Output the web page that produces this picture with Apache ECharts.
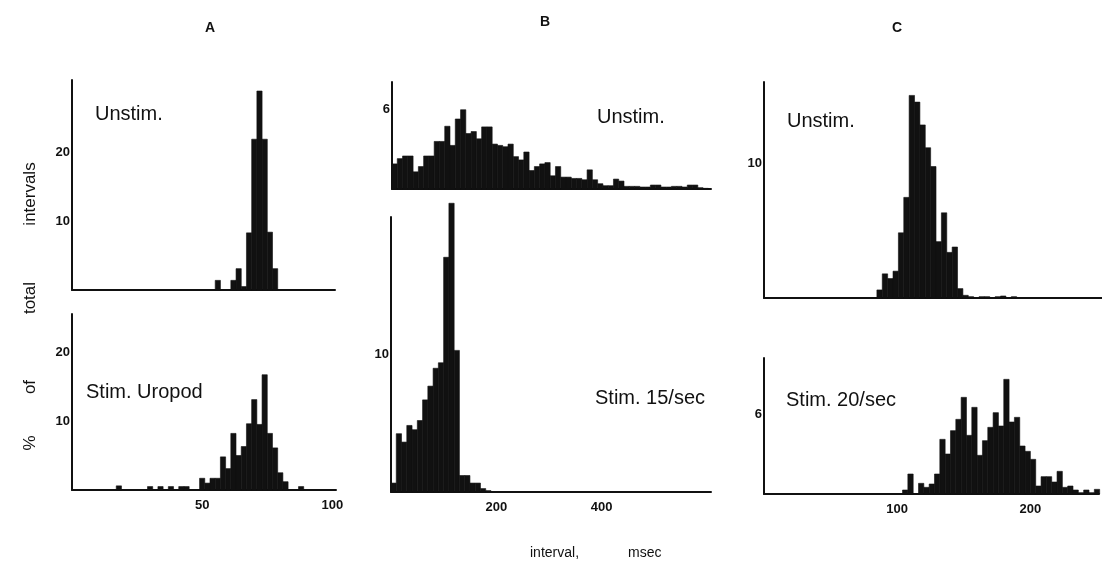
<!DOCTYPE html>
<html><head><meta charset="utf-8">
<script src="https://cdn.jsdelivr.net/npm/echarts@6/dist/echarts.min.js"></script>
<style>html,body{margin:0;padding:0;background:#fff}#c{width:1102px;height:586px}</style>
</head><body><div id="c"></div><script>
// ---------- DATA (interval in msec, % of total intervals) ----------
// Panel A, bin width 2 ms
const aUnstimBinWidth = 2;
const aUnstimBins = [55, 61, 63, 65, 67, 69, 71, 73, 75, 77];
const aUnstimVals = [1.4, 1.4, 3.1, 0.5, 8.3, 21.9, 28.9, 21.9, 8.4, 3.1];
const aStimBinWidth = 2;
const aStimBins = [17, 29, 33, 37, 41, 43, 49, 51, 53, 55, 57, 59, 61, 63, 65, 67, 69, 71, 73, 75, 77, 79, 81, 87];
const aStimVals = [0.6, 0.5, 0.5, 0.5, 0.5, 0.5, 1.7, 1.0, 1.7, 1.7, 4.8, 3.1, 8.2, 5.0, 6.3, 9.6, 13.1, 9.5, 16.7, 8.2, 6.1, 2.5, 1.2, 0.5];
// Panel B, bin width 10 ms, first bin starts at 0
const bUnstimStart = 0, bUnstimBinWidth = 10;
const bUnstimVals = [1.9, 2.3, 2.5, 2.5, 1.3, 1.7, 2.5, 2.5, 3.6, 3.6,
  4.75, 3.3, 5.3, 6.0, 4.2, 4.35, 3.8, 4.7, 4.7, 3.4,
  3.3, 3.2, 3.4, 2.45, 2.2, 2.8, 1.4, 1.7, 1.9, 2.0,
  1.0, 1.7, 0.9, 0.9, 0.8, 0.8, 0.7, 1.45, 0.7, 0.4,
  0.25, 0.25, 0.75, 0.6, 0.2, 0.2, 0.2, 0.15, 0.15, 0.3,
  0.3, 0.15, 0.15, 0.2, 0.2, 0.15, 0.3, 0.3, 0.1, 0.05];
const bStimStart = 0, bStimBinWidth = 10;
const bStimVals = [0.65, 4.24, 3.63, 4.84, 4.53, 5.2, 6.7, 7.7, 9.0, 9.4,
  17.07, 21.0, 10.3, 1.2, 1.2, 0.65, 0.65, 0.25, 0.1];
// Panel C, bin width 4 ms
const cUnstimStart = 84, cUnstimBinWidth = 4;
const cUnstimVals = [0.6, 1.8, 1.45, 2.0, 4.86, 7.5, 15.1, 14.6, 12.9, 11.2,
  9.8, 4.2, 6.35, 3.4, 3.8, 0.7, 0.2, 0.1, 0, 0.1, 0.1, 0, 0.1, 0.15, 0, 0.1];
const cStimStart = 104, cStimBinWidth = 4;
const cStimVals = [0.3, 1.5, 0, 0.8, 0.5, 0.75, 1.5, 4.1, 3.0, 4.75,
  5.6, 7.25, 4.4, 6.5, 2.9, 4.0, 5.0, 6.1, 5.1, 8.6,
  5.4, 5.75, 3.6, 3.2, 2.6, 0.6, 1.3, 1.3, 0.9, 1.7,
  0.5, 0.6, 0.3, 0.1, 0.3, 0.1, 0.35];

// tick labels
const aYTicksTop = [10, 20], aYTicksBottom = [10, 20], aXTicks = [50, 100];
const bYTicksTop = [6], bYTicksBottom = [10], bXTicks = [200, 400];
const cYTicksTop = [10], cYTicksBottom = [6], cXTicks = [100, 200];

// ---------- helpers ----------
function binsFromList(starts, vals, w) { return starts.map((s, i) => [s, s + w, vals[i]]); }
function binsFromStart(start, vals, w) { return vals.map((v, i) => [start + i * w, start + (i + 1) * w, v]); }

const INK = '#111';
const tickFont = { color: INK, fontSize: 13, fontWeight: 'bold', fontFamily: 'Liberation Sans' };

function yAx(gi, max, interval, ticks) {
  return { type: 'value', gridIndex: gi, min: 0, max, interval,
    axisLine: { show: true, lineStyle: { color: INK, width: 2 } },
    axisTick: { show: false }, splitLine: { show: false },
    axisLabel: Object.assign({ margin: 2, formatter: v => ticks.includes(v) ? String(v) : '' }, tickFont) };
}
function xAx(gi, max, interval, ticks) {
  return { type: 'value', gridIndex: gi, min: 0, max, interval,
    axisLine: { show: true, onZero: false, lineStyle: { color: INK, width: 2 } },
    axisTick: { show: false }, splitLine: { show: false },
    axisLabel: Object.assign({ show: ticks.length > 0, margin: 9, showMinLabel: true, showMaxLabel: true,
      formatter: v => ticks.includes(v) ? String(v) : '' }, tickFont) };
}
function renderBar(params, api) {
  const p0 = api.coord([api.value(0), 0]);
  const p1 = api.coord([api.value(1), api.value(2)]);
  return { type: 'rect',
    shape: { x: p0[0], y: p1[1], width: p1[0] - p0[0], height: p0[1] - p1[1] },
    style: { fill: INK, stroke: INK, lineWidth: 0.6 } };
}
function hist(gi, data) {
  return { type: 'custom', xAxisIndex: gi, yAxisIndex: gi, renderItem: renderBar,
    encode: { x: [0, 1], y: 2 }, data, clip: false, silent: true, animation: false };
}

const grids = [
  { left: 72, top: 80, width: 263, height: 210 },
  { left: 72, top: 314, width: 264, height: 176 },
  { left: 392, top: 82, width: 319, height: 107 },
  { left: 391, top: 217, width: 320, height: 275 },
  { left: 764, top: 82, width: 338, height: 216 },
  { left: 764, top: 358, width: 338, height: 136 }
];

const labelFont = { fontSize: 20, fontFamily: 'Liberation Sans', fill: INK };
function txt(x, y, text, extra) {
  return { type: 'text', x, y, style: Object.assign({ text, textVerticalAlign: 'middle' }, labelFont, extra || {}) };
}
function vtxt(x, y, text) {
  return { type: 'text', x, y, rotation: Math.PI / 2,
    style: { text, fontSize: 17, fontFamily: 'Liberation Sans', fill: INK, align: 'center', verticalAlign: 'middle' } };
}
const titleStyle = { fontSize: 14, fontWeight: 'bold', align: 'center' };

const option = {
  backgroundColor: '#fff',
  animation: false,
  grid: grids,
  xAxis: [
    xAx(0, 101, 50, []), xAx(1, 101.4, 50, aXTicks),
    xAx(2, 605, 200, []), xAx(3, 608, 200, bXTicks),
    xAx(4, 251.5, 100, []), xAx(5, 251.5, 100, cXTicks)
  ],
  yAxis: [
    yAx(0, 30.5, 10, aYTicksTop), yAx(1, 25.5, 10, aYTicksBottom),
    yAx(2, 8.1, 6, bYTicksTop), yAx(3, 20, 10, bYTicksBottom),
    yAx(4, 16.1, 10, cYTicksTop), yAx(5, 10.2, 6, cYTicksBottom)
  ],
  series: [
    hist(0, binsFromList(aUnstimBins, aUnstimVals, aUnstimBinWidth)),
    hist(1, binsFromList(aStimBins, aStimVals, aStimBinWidth)),
    hist(2, binsFromStart(bUnstimStart, bUnstimVals, bUnstimBinWidth)),
    hist(3, binsFromStart(bStimStart, bStimVals, bStimBinWidth)),
    hist(4, binsFromStart(cUnstimStart, cUnstimVals, cUnstimBinWidth)),
    hist(5, binsFromStart(cStimStart, cStimVals, cStimBinWidth))
  ],
  graphic: [
    txt(210, 28, 'A', titleStyle), txt(545, 22, 'B', titleStyle), txt(897, 28, 'C', titleStyle),
    txt(95, 114, 'Unstim.'), txt(86, 392, 'Stim. Uropod'),
    txt(597, 117, 'Unstim.'), txt(595, 398, 'Stim. 15/sec'),
    txt(787, 121, 'Unstim.'), txt(786, 400, 'Stim. 20/sec'),
    vtxt(30, 443, '%'), vtxt(30, 387, 'of'), vtxt(30, 298, 'total'), vtxt(30, 194, 'intervals'),
    txt(530, 553, 'interval,', { fontSize: 14 }), txt(628, 553, 'msec', { fontSize: 14 })
  ]
};
const chart = echarts.init(document.getElementById('c'), null, { renderer: 'canvas' });
chart.setOption(option);
</script></body></html>
